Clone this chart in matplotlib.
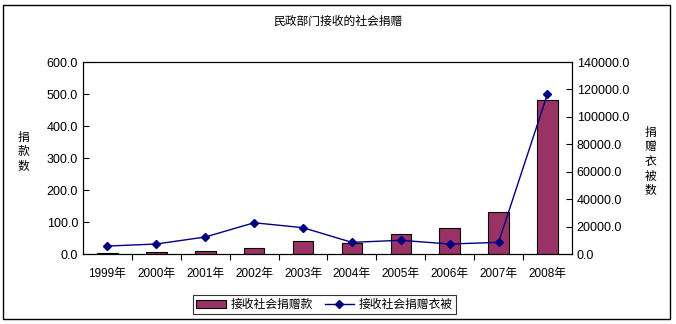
import matplotlib.pyplot as plt
from matplotlib.patches import Rectangle
from matplotlib.ticker import FixedLocator

plt.rcParams['font.family'] = ['Liberation Sans', 'Noto Sans CJK SC']

years = ['1999年', '2000年', '2001年', '2002年', '2003年',
         '2004年', '2005年', '2006年', '2007年', '2008年']
money = [4.0, 7.3, 10.4, 17.7, 40.6, 34.0, 61.5, 82.0, 130.0, 481.0]
clothes = [5800, 7300, 12400, 22800, 19200, 8500, 10000, 7300, 8500, 116700]

fig = plt.figure(figsize=(6.76, 3.24), dpi=100)
ax = fig.add_axes([0.1228, 0.216, 0.7232, 0.5926])
x = list(range(len(years)))

b = ax.bar(x, money, width=0.42, color='#993366', edgecolor='black', linewidth=0.8,
           label='接收社会捐赠款', zorder=2)
ax.set_xlim(-0.5, 9.5)
ax.set_ylim(0, 600)
ax.set_yticks(range(0, 601, 100))
ax.set_yticklabels(['%.1f' % v for v in range(0, 601, 100)], fontsize=9)
ax.set_xticks(x)
ax.set_xticklabels(years, fontsize=8.5)
ax.tick_params(axis='x', length=0, pad=10)
ax.xaxis.set_minor_locator(FixedLocator([i + 0.5 for i in range(9)]))
ax.tick_params(axis='x', which='minor', length=4, direction='out', width=0.8)
ax.tick_params(axis='y', direction='in', length=4, width=0.8)

ax2 = ax.twinx()
l, = ax2.plot(x, clothes, color='#000080', marker='D', markersize=4, linewidth=1,
              label='接收社会捐赠衣被')
ax2.set_ylim(0, 140000)
ax2.set_yticks(range(0, 140001, 20000))
ax2.set_yticklabels(['%.1f' % v for v in range(0, 140001, 20000)], fontsize=9)
ax2.tick_params(axis='y', direction='in', length=4, width=0.8)

for a in (ax, ax2):
    for s in a.spines.values():
        s.set_linewidth(0.8)

fig.text(0.5, 0.932, '民政部门接收的社会捐赠', ha='center', va='center', fontsize=8.5)
fig.text(0.035, 0.53, '捐\n款\n数', ha='center', va='center', fontsize=8.5, linespacing=1.3)
fig.text(0.962, 0.5, '捐\n赠\n衣\n被\n数', ha='center', va='center', fontsize=8.5,
         linespacing=1.3)

leg = fig.legend(handles=[b, l], loc='center', bbox_to_anchor=(0.48, 0.059), ncol=2,
                 fontsize=8.5, frameon=True, fancybox=False, edgecolor='black',
                 handlelength=2.5, columnspacing=1.0, handletextpad=0.4,
                 borderpad=0.3)
leg.get_frame().set_linewidth(0.8)

fig.patches.append(Rectangle((0.0045, 0.016), 0.986, 0.97, transform=fig.transFigure,
                             fill=False, edgecolor='black', linewidth=1))

fig.savefig('out.png', dpi=100)
